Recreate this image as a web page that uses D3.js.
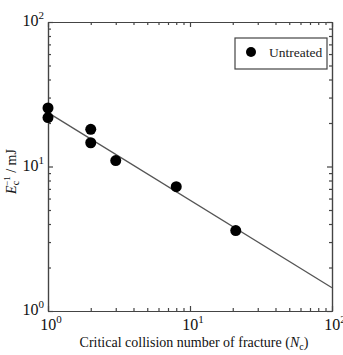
<!DOCTYPE html>
<html>
<head>
<meta charset="utf-8">
<script src="https://cdn.jsdelivr.net/npm/d3@7"></script>
<style>
  body { margin: 0; background: #fff; }
  text { font-family: "Liberation Serif", "Times New Roman", serif; fill: #111; }
</style>
</head>
<body>
<div id="chart"></div>
<script>
// critical collision number vs inverse critical energy
const nc = [1, 1, 2, 2, 3, 8, 21];
const ec = [25.4, 21.8, 18.1, 14.6, 11.0, 7.25, 3.6];
const fitX = [1, 100];
const fitY = [23.6, 1.45];
const decades = [1, 10, 100];
const decadeExp = ['0', '1', '2'];

const margin = { top: 22, right: 11, bottom: 44, left: 48 };
const width = 343 - margin.left - margin.right;
const height = 355 - margin.top - margin.bottom;

const svg = d3.select('#chart')
  .append('svg')
  .attr('width', 343)
  .attr('height', 355)
  .append('g')
  .attr('transform', `translate(${margin.left},${margin.top})`);

const x = d3.scaleLog().domain([1, 100]).range([0, width]);
const y = d3.scaleLog().domain([1, 100]).range([height, 0]);

const minorX = x.ticks().filter(d => !decades.includes(d));
const minorY = y.ticks().filter(d => !decades.includes(d));

function drawAxis(axisFn, scale, vals, size, transform) {
  const g = svg.append('g')
    .attr('transform', transform)
    .call(axisFn(scale).tickValues(vals).tickSizeInner(size).tickSizeOuter(0).tickFormat(''));
  g.selectAll('path, line').attr('stroke', '#444').attr('stroke-width', 1.2);
  return g;
}

// inward ticks on all four sides
drawAxis(d3.axisBottom, x, minorX, -3, `translate(0,${height})`);
drawAxis(d3.axisBottom, x, decades, -5, `translate(0,${height})`);
drawAxis(d3.axisTop, x, minorX, -3, 'translate(0,0)');
drawAxis(d3.axisTop, x, decades, -5, 'translate(0,0)');
drawAxis(d3.axisLeft, y, minorY, -3, 'translate(0,0)');
drawAxis(d3.axisLeft, y, decades, -5, 'translate(0,0)');
drawAxis(d3.axisRight, y, minorY, -3, `translate(${width},0)`);
drawAxis(d3.axisRight, y, decades, -5, `translate(${width},0)`);

// tick labels with superscripts
const xl = svg.append('g').selectAll('text')
  .data(decades)
  .enter().append('text')
  .attr('x', d => x(d) + 3)
  .attr('y', height + 19)
  .attr('text-anchor', 'middle')
  .style('font-size', '16px');
xl.append('tspan').text('10');
xl.append('tspan').attr('dy', -7).style('font-size', '11px').text((d, i) => decadeExp[i]);

const yl = svg.append('g').selectAll('text')
  .data(decades)
  .enter().append('text')
  .attr('x', -4)
  .attr('y', d => y(d) + 4)
  .attr('text-anchor', 'end')
  .style('font-size', '16px');
yl.append('tspan').text('10');
yl.append('tspan').attr('dy', -7).style('font-size', '11px').text((d, i) => decadeExp[i]);

// axis titles
const xt = svg.append('text')
  .attr('x', width / 2 + 4)
  .attr('y', height + 36)
  .attr('text-anchor', 'middle')
  .style('font-size', '14px');
xt.append('tspan').text('Critical collision number of fracture (');
xt.append('tspan').style('font-style', 'italic').text('N');
xt.append('tspan').attr('dy', 3).style('font-size', '10px').text('c');
xt.append('tspan').attr('dy', -3).text(')');

const yt = svg.append('text')
  .attr('transform', `translate(${-margin.left + 16},${height / 2 + 5}) rotate(-90)`)
  .attr('text-anchor', 'middle')
  .style('font-size', '14px');
yt.append('tspan').style('font-style', 'italic').text('E');
yt.append('tspan').attr('dy', 3).style('font-size', '10px').text('c');
yt.append('tspan').attr('dx', -5).attr('dy', -9).style('font-size', '9px').text('\u22121');
yt.append('tspan').attr('dy', 6).text(' / mJ');

// fitted power law
svg.append('path')
  .datum(fitX.map((d, i) => [d, fitY[i]]))
  .attr('d', d3.line().x(d => x(d[0])).y(d => y(d[1])))
  .attr('fill', 'none')
  .attr('stroke', '#555')
  .attr('stroke-width', 1.3);

svg.append('g').selectAll('circle')
  .data(nc.map((d, i) => [d, ec[i]]))
  .enter().append('circle')
  .attr('cx', d => x(d[0]))
  .attr('cy', d => y(d[1]))
  .attr('r', 5.5)
  .attr('fill', '#000');

// legend
const lg = svg.append('g').attr('transform', 'translate(187,16)');
lg.append('rect')
  .attr('width', 92).attr('height', 31)
  .attr('fill', '#fff').attr('stroke', '#444').attr('stroke-width', 1.2);
lg.append('circle').attr('cx', 16).attr('cy', 14).attr('r', 5).attr('fill', '#000');
lg.append('text').attr('x', 34).attr('y', 19).style('font-size', '13.5px').style('fill', '#222').text('Untreated');
</script>
</body>
</html>
